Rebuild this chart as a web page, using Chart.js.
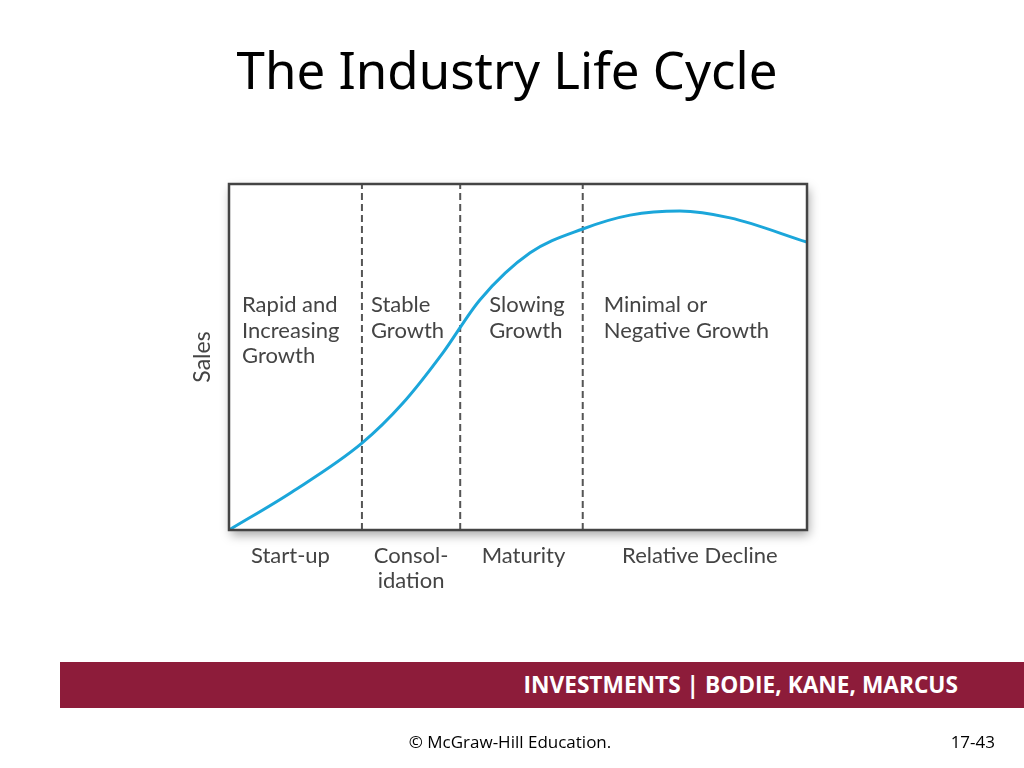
<!DOCTYPE html>
<html>
<head>
<meta charset="utf-8">
<script src="https://cdn.jsdelivr.net/npm/chart.js@4.4.1/dist/chart.umd.min.js"></script>
<style>
  html, body { margin: 0; padding: 0; background: #fff; }
  #page { position: relative; width: 1024px; height: 768px; overflow: hidden; font-family: "Noto Sans", "Open Sans", sans-serif; }
  #title { position: absolute; left: 0; width: 1014px; top: 34px; text-align: center; font-size: 51px; color: #000; }
  #chart { position: absolute; left: 0; top: 0; }
  #bar { position: absolute; left: 60px; top: 662px; width: 964px; height: 46px; background: #8d1c3a; }
  #bar span { position: absolute; right: 66px; top: 7px; color: #fff; font-family: "Open Sans", sans-serif; font-weight: bold; font-size: 22.7px; }
  #copy { position: absolute; left: 0; width: 1020px; top: 730px; text-align: center; font-family: "Open Sans", sans-serif; font-size: 17px; color: #000; }
  #num { position: absolute; right: 29px; top: 730px; font-family: "Open Sans", sans-serif; font-size: 17px; color: #000; }
</style>
</head>
<body>
<div id="page">
  <canvas id="chart" width="1024" height="768"></canvas>
  <div id="title">The Industry Life Cycle</div>
  <div id="bar"><span>INVESTMENTS | BODIE, KANE, MARCUS</span></div>
  <div id="copy">© McGraw-Hill Education.</div>
  <div id="num">17-43</div>
</div>
<script>
// Sales curve (time 0-100, sales 0-100)
const timeValues  = [0, 10.9, 23.0, 30.1, 37.0, 43.4, 52.1, 61.2, 69.4, 78.0, 86.7, 100];
const salesValues = [0, 11.0, 25.1, 36.7, 51.2, 66.5, 80.1, 87.0, 91.0, 92.2, 90.2, 83.2];

// Stage boundaries (dashed lines) and names
const stageBounds = [0, 23.0, 40.0, 61.2, 100];
const stageNames = [['Start-up'], ['Consol-', 'idation'], ['Maturity'], ['Relative Decline']];
const stageGrowth = [
    ['Rapid and', 'Increasing', 'Growth'],
    ['Stable', 'Growth'],
    ['Slowing', 'Growth'],
    ['Minimal or', 'Negative Growth']
];

// pixel offsets of the growth text from each stage's left boundary
const growthOffsets = [13, 9, 29, 21];
// pixel shifts of the stage names from the stage centre
const nameShifts = [-5, 0, 2, 5];

const textColor = '#444';
const labelFont = '22px Lato, "Noto Sans", sans-serif';

const dividerSets = stageBounds.slice(1, -1).map(x => ({
    data: [{ x: x, y: 0 }, { x: x, y: 100 }],
    borderColor: '#555',
    borderWidth: 2,
    borderDash: [7, 4],
    pointRadius: 0,
    tension: 0
}));

const framePlugin = {
    id: 'frame',
    beforeDraw(chart) {
        const { ctx, chartArea: a } = chart;
        ctx.save();
        ctx.shadowColor = 'rgba(0,0,0,0.35)';
        ctx.shadowBlur = 10;
        ctx.shadowOffsetX = 2;
        ctx.shadowOffsetY = 5;
        ctx.fillStyle = '#fff';
        ctx.fillRect(a.left, a.top, a.right - a.left, a.bottom - a.top);
        ctx.restore();
    },
    afterDraw(chart) {
        const { ctx, chartArea: a, scales } = chart;
        const xs = scales.x;
        ctx.save();
        ctx.strokeStyle = '#444';
        ctx.lineWidth = 2.5;
        ctx.strokeRect(a.left, a.top, a.right - a.left, a.bottom - a.top);

        ctx.fillStyle = textColor;
        ctx.font = labelFont;
        ctx.textBaseline = 'middle';

        // growth text inside each stage
        ctx.textAlign = 'left';
        stageGrowth.forEach((lines, i) => {
            const x = xs.getPixelForValue(stageBounds[i]) + growthOffsets[i];
            lines.forEach((t, j) => ctx.fillText(t, x, 305 + j * 25.5));
        });

        // stage names under the axis
        ctx.textAlign = 'center';
        stageNames.forEach((lines, i) => {
            const x = (xs.getPixelForValue(stageBounds[i]) + xs.getPixelForValue(stageBounds[i + 1])) / 2 + nameShifts[i];
            lines.forEach((t, j) => ctx.fillText(t, x, a.bottom + 26 + j * 25));
        });

        // y axis title
        ctx.font = '23px Lato, "Noto Sans", sans-serif';
        ctx.translate(a.left - 26, (a.top + a.bottom) / 2);
        ctx.rotate(-Math.PI / 2);
        ctx.fillText('Sales', 0, 0);
        ctx.restore();
    }
};

new Chart(document.getElementById('chart'), {
    type: 'line',
    data: {
        datasets: [{
            label: 'Sales',
            data: timeValues.map((t, i) => ({ x: t, y: salesValues[i] })),
            borderColor: '#1ba6da',
            borderWidth: 3,
            pointRadius: 0,
            cubicInterpolationMode: 'monotone'
        }].concat(dividerSets)
    },
    options: {
        responsive: false,
        animation: false,
        layout: { padding: { left: 229, top: 184, right: 217, bottom: 238 } },
        scales: {
            x: { type: 'linear', min: 0, max: 100, display: false },
            y: { min: 0, max: 100, display: false }
        },
        plugins: {
            legend: { display: false },
            tooltip: { enabled: false }
        }
    },
    plugins: [framePlugin]
});
</script>
</body>
</html>
